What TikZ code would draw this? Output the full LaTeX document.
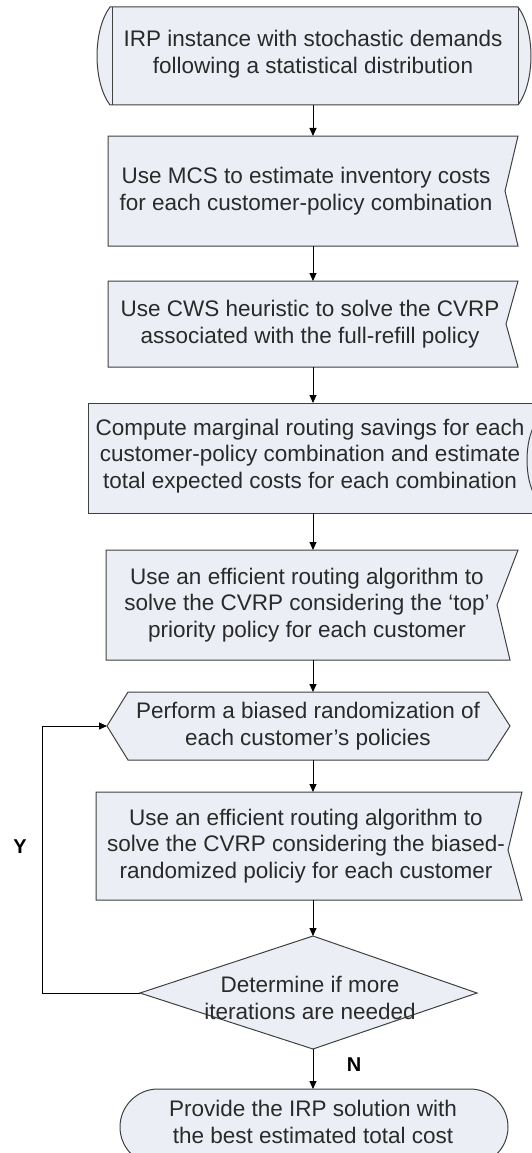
\documentclass[tikz,border=0pt]{standalone}
\usepackage{fontspec}
\setmainfont{Liberation Sans}
\usetikzlibrary{arrows.meta}
\definecolor{boxfill}{HTML}{EBEEF4}
\definecolor{boxline}{HTML}{404040}
\definecolor{txt}{HTML}{2A2A2A}
\begin{document}
\begin{tikzpicture}[x=1pt,y=-1pt,
  shp/.style={fill=boxfill,draw=boxline,line width=1pt,line join=miter},
  edge/.style={draw=boxline,line width=1pt},
  lbl/.style={text=txt,font=\fontsize{22.5}{26.5}\selectfont,align=center,inner sep=0pt},
  conn/.style={draw=black,line width=0.9pt,-{Triangle[length=8pt,width=7pt]}},
  yn/.style={font=\fontsize{20}{24}\selectfont\bfseries,text=black,inner sep=0pt}]
\useasboundingbox (0,0) rectangle (532,1153);
\clip (0,0) rectangle (532,1153);
% shape 1
\path[shp] (110,7) -- (518,7) .. controls (535.3,30) and (535.3,82) .. (518,105) -- (110,105) .. controls (92.7,82) and (92.7,30) .. (110,7) -- cycle;
\draw[edge] (112,7) -- (112,105) (518,7) -- (518,105);
\node[lbl] (t1) at (313,54) {IRP instance with stochastic demands\\following a statistical distribution};
\coordinate (s1) at (313,105);
% shape 2
\path[shp] (108,136) -- (518,136) -- (505,191) -- (518,246) -- (108,246) -- cycle;
\node[lbl] (t2) at (306,191) {Use MCS to estimate inventory costs\\for each customer-policy combination};
\coordinate (n2) at (313,136);
\coordinate (s2) at (313,246);
% shape 3
\path[shp] (108,281) -- (518,281) -- (506,324) -- (518,367) -- (108,367) -- cycle;
\node[lbl] (t3) at (310,324) {Use CWS heuristic to solve the CVRP\\associated with the full-refill policy};
\coordinate (n3) at (313,281);
\coordinate (s3) at (313,367);
% shape 4
\path[shp] (88,403) -- (548,403) -- (548,513) -- (88,513) -- cycle;
\draw[edge] (533,428) .. controls (525,445) and (525,475) .. (533,492);
\node[lbl] (t4) at (310,456) {Compute marginal routing savings for each\\customer-policy combination and estimate\\total expected costs for each combination};
\coordinate (n4) at (313,403);
\coordinate (s4) at (313,513);
% shape 5
\path[shp] (106,550) -- (518,550) -- (497,605) -- (510,660) -- (106,660) -- cycle;
\node[lbl] (t5) at (307,605) {Use an efficient routing algorithm to\\solve the CVRP considering the `top'\\priority policy for each customer};
\coordinate (n5) at (313,550);
\coordinate (s5) at (313,660);
% shape 6 (hexagon)
\path[shp] (107,726) -- (128,692) -- (488,692) -- (510,726) -- (488,760) -- (128,760) -- cycle;
\node[lbl] (t6) at (308,726) {Perform a biased randomization of\\each customer's policies};
\coordinate (n6) at (313,692);
\coordinate (s6) at (313,760);
\coordinate (w6) at (107,726);
% shape 7
\path[shp] (96,792) -- (522,792) -- (508,850) -- (522,900) -- (96,900) -- cycle;
\node[lbl] (t7) at (306,846) {Use an efficient routing algorithm to\\solve the CVRP considering the biased-\\randomized policiy for each customer};
\coordinate (n7) at (313,792);
\coordinate (s7) at (313,900);
% shape 8 (decision)
\path[shp] (313,936) -- (477,993) -- (313,1049) -- (140,993) -- cycle;
\node[lbl] (t8) at (310,998) {Determine if more\\iterations are needed};
\coordinate (n8) at (313,936);
\coordinate (s8) at (313,1049);
\coordinate (w8) at (140,993);
% shape 9 (terminal)
\path[shp,rounded corners=38pt] (120,1089) rectangle (508,1165);
\node[lbl] (t9) at (313,1122) {Provide the IRP solution with\\the best estimated total cost};
\coordinate (n9) at (313,1089);
% connectors
\draw[conn] (s1) -- (n2);
\draw[conn] (s2) -- (n3);
\draw[conn] (s3) -- (n4);
\draw[conn] (s4) -- (n5);
\draw[conn] (s5) -- (n6);
\draw[conn] (s6) -- (n7);
\draw[conn] (s7) -- (n8);
\draw[conn] (s8) -- (n9);
\draw[conn] (w8) -- ++(-98,0) |- (w6);
\node[yn] (ly) at (20,847) {Y};
\node[yn] (ln) at (354,1065) {N};
\end{tikzpicture}
\end{document}
